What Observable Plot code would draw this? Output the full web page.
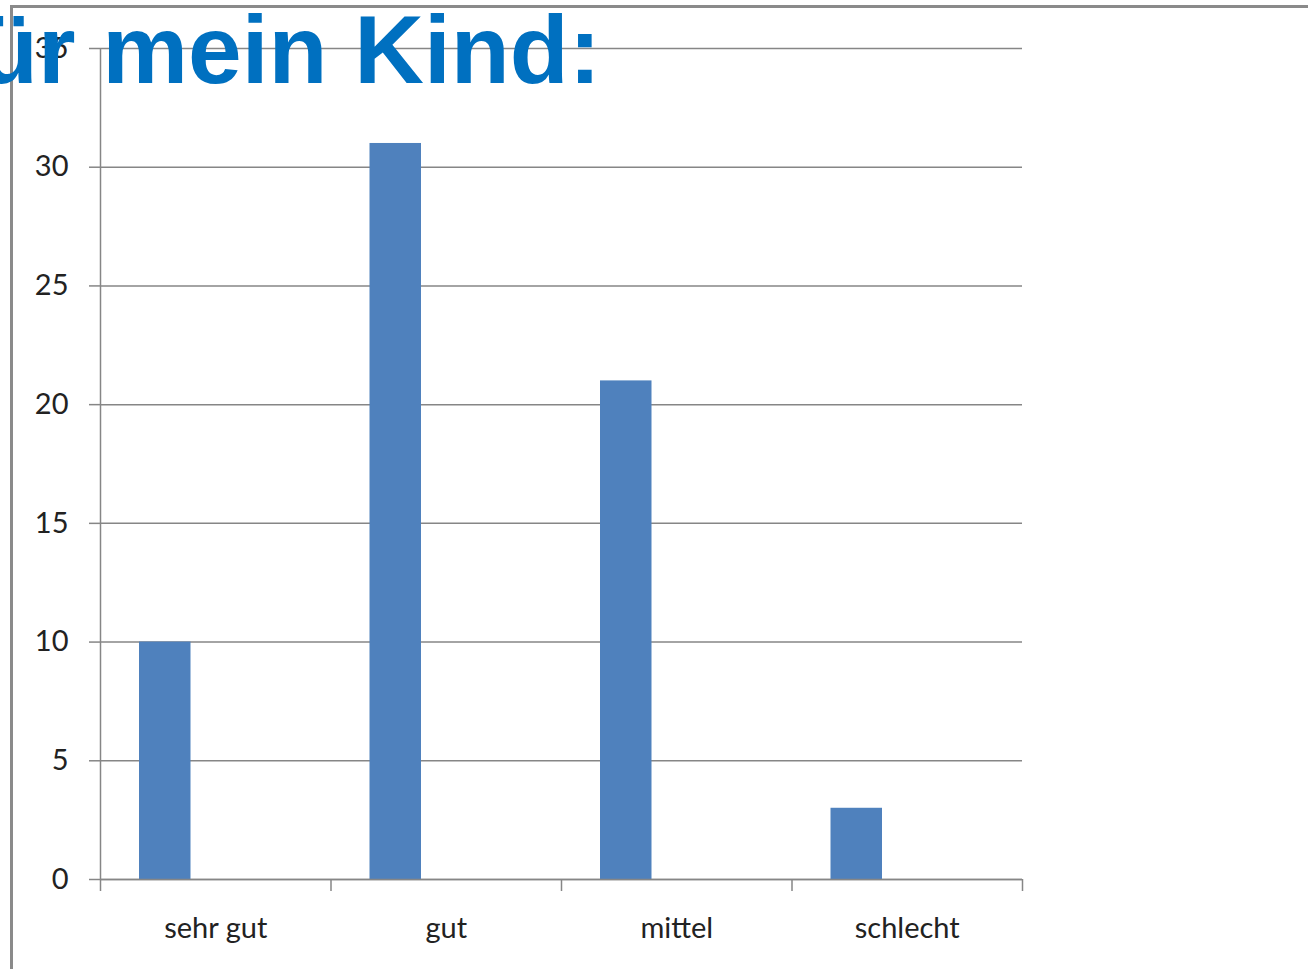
<!DOCTYPE html>
<html><head><meta charset="utf-8">
<script src="https://cdn.jsdelivr.net/npm/d3@7"></script>
<script src="https://cdn.jsdelivr.net/npm/@observablehq/plot@0.6"></script>
<style>
body{margin:0;background:#fff;overflow:hidden}
#wrap{position:relative;width:1308px;height:969px;overflow:hidden;background:#fff}
#frame{position:absolute;left:10px;top:5px;width:1320px;height:1000px;border-top:3px solid #8a8a8a;border-left:3px solid #8a8a8a;box-sizing:border-box}
#chart{position:absolute;left:0;top:0}
#title{position:absolute;left:-21px;top:2px;font:bold 96.5px/1 "Liberation Sans",Arial,sans-serif;color:#0070C0;white-space:nowrap;z-index:2}
</style></head>
<body>
<div id="wrap">
  <div id="frame"></div>
  <div id="chart"></div>
  <div id="title">ür mein Kind:</div>
</div>
<script>
const categories = ["sehr gut", "gut", "mittel", "schlecht"];
const values = [10, 31, 21, 3];
const yTicks = [0, 5, 10, 15, 20, 25, 30, 35];

const data = categories.map((c, i) => ({category: c, value: values[i], i}));
const boundaries = d3.range(categories.length + 1);
const centers = categories.map((c, i) => i + 0.5);
const grey = "#868686";

const chart = Plot.plot({
  width: 1308, height: 969,
  marginLeft: 100, marginRight: 286, marginTop: 48, marginBottom: 90,
  x: {domain: [0, categories.length], axis: null, label: null},
  y: {domain: [0, 35], axis: null, label: null},
  style: {fontFamily: "Lato, 'Open Sans', sans-serif", fontSize: "29px", color: "#222", background: "transparent"},
  marks: [
    Plot.gridY(yTicks, {stroke: grey, strokeOpacity: 1, strokeWidth: 1.5}),
    Plot.rectY(data, {x1: "i", x2: d => d.i + 1, y: "value", fill: "#4F81BD", insetLeft: 39, insetRight: 140}),
    Plot.ruleX([0], {y1: 0, y2: 35, stroke: grey, strokeWidth: 1.5}),
    Plot.ruleY([0], {stroke: grey, strokeWidth: 1.5}),
    Plot.axisY({ticks: yTicks, tickSize: 11, tickPadding: 21, stroke: grey, strokeWidth: 1.5, label: null, tickFormat: d => String(d)}),
    Plot.axisX({ticks: boundaries, tickSize: 12, stroke: grey, strokeWidth: 1.5, label: null, tickFormat: () => ""}),
    Plot.axisX({ticks: centers, tickSize: 0, tickPadding: 38, label: null, tickFormat: v => categories[Math.floor(v)]})
  ]
});
document.getElementById("chart").appendChild(chart);
</script>
</body></html>
